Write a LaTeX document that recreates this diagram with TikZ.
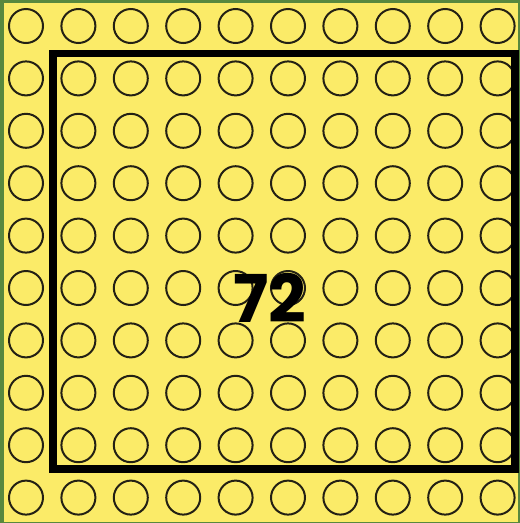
\documentclass[tikz,border=0pt]{standalone}
\usepackage{fontspec}
\newfontfamily\numfont{Poppins}
\definecolor{bordergreen}{RGB}{88,136,62}
\definecolor{padyellow}{RGB}{251,235,104}
\definecolor{ringcol}{RGB}{35,32,20}
\begin{document}
\begin{tikzpicture}[x=1pt,y=-1pt,
  ring/.style={circle,draw=ringcol,line width=2pt,minimum size=34pt,inner sep=0pt},
  frame/.style={draw=black,line width=7.5pt},
  label/.style={font=\numfont\bfseries\fontsize{66}{66}\selectfont,inner sep=0pt}]
\fill[bordergreen] (0,0) rectangle (520,523);
\useasboundingbox (0,0) rectangle (520,523);
\fill[padyellow] (4,3) rectangle (518,522);
\foreach \i in {0,...,9}{
  \foreach \j in {0,...,9}{
    \node[ring] (c-\i-\j) at ({26+52.4*\i},{26+52.4*\j}) {};
  }
}
\draw[frame] (53,53.5) rectangle (515,469);
\node[label] (n72) at (270,298) {72};
\end{tikzpicture}
\end{document}
